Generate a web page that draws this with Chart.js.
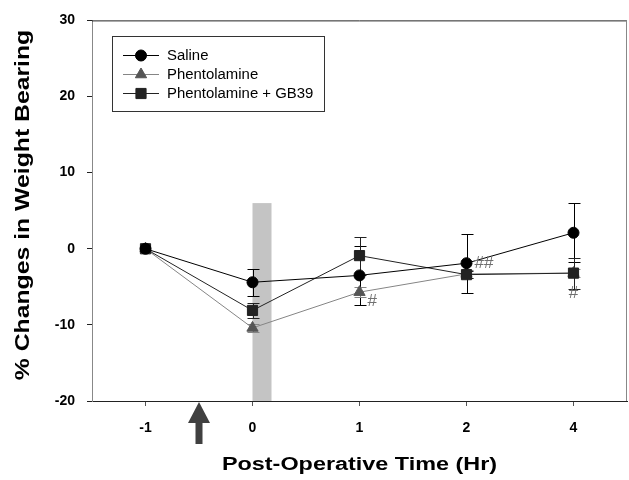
<!DOCTYPE html>
<html>
<head>
<meta charset="utf-8">
<script src="https://cdn.jsdelivr.net/npm/chart.js@4/dist/chart.umd.min.js"></script>
<style>
  html, body { margin: 0; padding: 0; background: #fff; }
  #wrap { width: 629px; height: 480px; }
</style>
</head>
<body>
<div id="wrap"><canvas id="chart"></canvas></div>
<script>
// ===== DATA =====
const TIMES = ['-1', '0', '1', '2', '4'];
const Y_TICKS = [-20, -10, 0, 10, 20, 30];

const SALINE = [0, -4.4, -3.5, -1.9, 2.1];
const SALINE_ERR = [0, 1.8, 3.9, 3.9, 3.85];
const PHENT = [0, -10.4, -5.7, -3.3, -3.2];
const PHENT_ERR = [0, 0.5, 0.7, 0.5, 0.5];
const PHENT_GB39 = [0, -8.1, -0.9, -3.4, -3.2];
const PHENT_GB39_ERR = [0, 1.0, 2.5, 0.5, 2.05];

// shaded drug window and significance marks
const BAND_AT = '0';
const BAND_RANGE = [-20, 6];
const SIG_LABELS = ['#', '##', '#'];
const SIG_AT = ['1', '2', '4'];
const SIG_VALUE = [-6.9, -1.9, -5.8];

const X_TITLE = 'Post-Operative Time (Hr)';
const Y_TITLE = '% Changes in Weight Bearing';

const FONT = "'Liberation Sans', Arial, sans-serif";

// the original's text is a bit wider than Arial, so stretch it
function stretchedText(ctx, text, cx, cy, rot, sx, font) {
  ctx.save();
  ctx.translate(cx, cy);
  ctx.rotate(rot);
  ctx.scale(sx, 1);
  ctx.font = font;
  ctx.fillStyle = '#000';
  ctx.textAlign = 'center';
  ctx.textBaseline = 'middle';
  ctx.fillText(text, 0, 0);
  ctx.restore();
}

// error bars, drawn under the markers
const errorBars = {
  id: 'errorBars',
  beforeDatasetsDraw(chart) {
    const { ctx, scales: { x, y } } = chart;
    chart.data.datasets.forEach(ds => {
      if (!ds.errors) return;
      ctx.save();
      ctx.strokeStyle = ds.borderColor;
      ctx.lineWidth = 1;
      ds.data.forEach((v, j) => {
        const e = ds.errors[j];
        if (!e) return;
        const px = Math.round(x.getPixelForValue(j)) + 0.5;
        const top = Math.round(y.getPixelForValue(v + e)) + 0.5;
        const bot = Math.round(y.getPixelForValue(v - e)) + 0.5;
        ctx.beginPath();
        ctx.moveTo(px, top); ctx.lineTo(px, bot);
        ctx.moveTo(px - 6, top); ctx.lineTo(px + 6, top);
        ctx.moveTo(px - 6, bot); ctx.lineTo(px + 6, bot);
        ctx.stroke();
      });
      ctx.restore();
    });
  }
};

// gray band at time 0
const band = {
  id: 'band',
  beforeDatasetsDraw(chart) {
    const { ctx, scales: { x, y } } = chart;
    const x0 = x.getPixelForValue(TIMES.indexOf(BAND_AT));
    const top = y.getPixelForValue(BAND_RANGE[1]);
    const bot = y.getPixelForValue(BAND_RANGE[0]);
    ctx.save();
    ctx.fillStyle = '#c4c4c4';
    ctx.fillRect(x0, top, 19, bot - top);
    ctx.restore();
  }
};

// frame, arrow, titles, significance marks, legend
const extras = {
  id: 'extras',
  afterDraw(chart) {
    const { ctx, chartArea: a, scales: { x, y } } = chart;
    ctx.save();
    // top and right edges of the frame
    ctx.lineWidth = 1;
    ctx.strokeStyle = '#222';
    ctx.beginPath(); ctx.moveTo(a.left, a.top + 0.5); ctx.lineTo(a.right, a.top + 0.5); ctx.stroke();
    ctx.strokeStyle = '#888';
    ctx.beginPath(); ctx.moveTo(a.right - 0.5, a.top); ctx.lineTo(a.right - 0.5, a.bottom); ctx.stroke();

    // surgery arrow between -1 and 0
    const ax = (x.getPixelForValue(0) + x.getPixelForValue(1)) / 2;
    const ay = a.bottom + 1;
    ctx.fillStyle = '#404040';
    ctx.beginPath();
    ctx.moveTo(ax, ay);
    ctx.lineTo(ax + 11, ay + 21);
    ctx.lineTo(ax + 3.5, ay + 21);
    ctx.lineTo(ax + 3.5, ay + 42);
    ctx.lineTo(ax - 3.5, ay + 42);
    ctx.lineTo(ax - 3.5, ay + 21);
    ctx.lineTo(ax - 11, ay + 21);
    ctx.closePath();
    ctx.fill();

    // axis titles
    stretchedText(ctx, X_TITLE, (a.left + a.right) / 2, 465, 0, 1.3, 'bold 18px ' + FONT);
    stretchedText(ctx, Y_TITLE, 24, 205, -Math.PI / 2, 1.27, 'bold 19.5px ' + FONT);

    // significance marks
    ctx.fillStyle = '#707070';
    ctx.font = '17px ' + FONT;
    ctx.textBaseline = 'middle';
    SIG_LABELS.forEach((t, i) => {
      const idx = TIMES.indexOf(SIG_AT[i]);
      let px = x.getPixelForValue(idx);
      const last = idx === TIMES.length - 1;
      ctx.textAlign = last ? 'center' : 'left';
      if (!last) px += 8;
      ctx.fillText(t, px, y.getPixelForValue(SIG_VALUE[i]));
    });

    // legend box
    ctx.strokeStyle = '#333';
    ctx.strokeRect(112.5, 36.5, 212, 75);
    chart.data.datasets.forEach((ds, i) => {
      const ry = 55 + i * 19;
      ctx.strokeStyle = ds.borderColor;
      ctx.lineWidth = 1;
      ctx.beginPath(); ctx.moveTo(123, ry + 0.5); ctx.lineTo(159, ry + 0.5); ctx.stroke();
      ctx.fillStyle = ds.pointBackgroundColor;
      ctx.strokeStyle = ds.pointBackgroundColor;
      Chart.helpers.drawPoint(ctx, { pointStyle: ds.pointStyle, radius: ds.pointRadius, borderWidth: 1, rotation: 0 }, 141, ry + 0.5);
      ctx.save();
      ctx.translate(167, ry + 1);
      ctx.scale(1.065, 1);
      ctx.font = '14px ' + FONT;
      ctx.fillStyle = '#000';
      ctx.textAlign = 'left';
      ctx.textBaseline = 'middle';
      ctx.fillText(ds.label, 0, 0);
      ctx.restore();
    });
    ctx.restore();
  }
};

function buildChart() {
  const canvas = document.getElementById('chart');
  return new Chart(canvas, {
    type: 'line',
    data: {
      labels: TIMES,
      datasets: [
        {
          label: 'Saline', data: SALINE, errors: SALINE_ERR,
          borderColor: '#000', borderWidth: 1,
          pointStyle: 'circle', pointRadius: 5.5,
          pointBackgroundColor: '#000', pointBorderColor: '#000',
          order: 0
        },
        {
          label: 'Phentolamine', data: PHENT, errors: PHENT_ERR,
          borderColor: '#858585', borderWidth: 1,
          pointStyle: 'triangle', pointRadius: 6.5,
          pointBackgroundColor: '#555', pointBorderColor: '#555',
          order: 2
        },
        {
          label: 'Phentolamine + GB39', data: PHENT_GB39, errors: PHENT_GB39_ERR,
          borderColor: '#222', borderWidth: 1,
          pointStyle: 'rect', pointRadius: 7.2,
          pointBackgroundColor: '#222', pointBorderColor: '#222',
          order: 1
        }
      ]
    },
    options: {
      responsive: true,
      maintainAspectRatio: false,
      animation: false,
      layout: { autoPadding: false, padding: { top: 20, right: 2, bottom: 0, left: 0 } },
      plugins: { legend: { display: false }, tooltip: { enabled: false } },
      elements: { line: { tension: 0 }, point: { borderWidth: 1 } },
      scales: {
        x: {
          type: 'category',
          offset: true,
          grid: { drawOnChartArea: false, tickLength: 5, color: '#555' },
          border: { color: '#222' },
          ticks: { font: { family: FONT, size: 14, weight: 'bold' }, color: '#000', padding: 14 },
          afterFit: s => { s.height = 79; s.paddingLeft = 0; s.paddingRight = 0; }
        },
        y: {
          min: -20, max: 30,
          afterBuildTicks: s => { s.ticks = Y_TICKS.map(v => ({ value: v })); },
          grid: { drawOnChartArea: false, tickLength: 5, color: '#222' },
          border: { color: '#888' },
          ticks: { font: { family: FONT, size: 14, weight: 'bold' }, color: '#000', padding: 12 },
          afterFit: s => { s.width = 92; }
        }
      }
    },
    plugins: [band, errorBars, extras]
  });
}

document.addEventListener('DOMContentLoaded', buildChart);
</script>
</body>
</html>
